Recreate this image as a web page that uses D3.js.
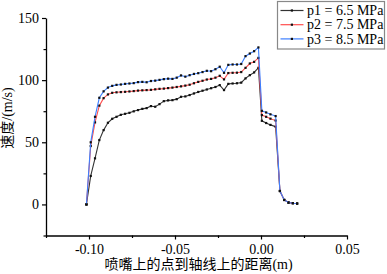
<!DOCTYPE html>
<html>
<head>
<meta charset="utf-8">
<script src="https://cdn.jsdelivr.net/npm/d3@7"></script>
<style>
  body { margin: 0; background: #fff; }
  svg { display: block; font-family: 'Liberation Serif', 'Noto Sans CJK SC', serif; }
  .tick text { font-size: 14px; fill: #000; font-family: 'Liberation Serif', serif; }
  .axis-label { font-size: 14px; fill: #000; }
  .legend-text { font-size: 14px; fill: #000; }
</style>
</head>
<body>
<svg></svg>
<script>
const w = 387
const h = 274

// distance from the nozzle point to the axis (m)
const xs = [-0.1015, -0.099, -0.0965, -0.094, -0.0915, -0.089, -0.0865, -0.084, -0.0815, -0.079,
  -0.0765, -0.074, -0.0715, -0.069, -0.0665, -0.064, -0.0615, -0.059, -0.0565, -0.054,
  -0.0515, -0.049, -0.0465, -0.044, -0.0415, -0.039, -0.0365, -0.034, -0.0315, -0.029,
  -0.0265, -0.024, -0.0215, -0.019, -0.0165, -0.014, -0.0115, -0.009, -0.0065, -0.004,
  -0.0015, 0.0005, 0.003, 0.0055, 0.0085, 0.011, 0.0135, 0.016, 0.0185, 0.021]

const p1 = [0, 22.9, 37.1, 51.8, 59.8, 65.7, 68.9, 70.5, 72.1, 72.9,
  73.7, 74.9, 75.9, 76.9, 77.5, 79.1, 78.6, 80.7, 83.1, 83.7,
  83.9, 84.7, 86.6, 86.9, 88, 89.3, 90.5, 91.5, 92.5, 93.5,
  94.5, 96, 92, 97, 97.3, 97.5, 98, 101.4, 104, 106.2,
  109.9, 67.3, 65.5, 64, 62.5, 10.8, 3.6, 1.5, 1, 0.7]

const p2 = [0, 47, 66, 79.5, 85.5, 88.5, 89.8, 90.2, 90.4, 90.6,
  90.9, 91.2, 91.6, 91.8, 92, 92.2, 92.6, 93, 93.2, 93.6,
  94, 94.5, 95, 95.6, 96.3, 97.5, 98.6, 99.5, 100.5, 101,
  102, 103.5, 100.6, 105.7, 105.9, 106, 106.5, 109.9, 113.4, 114.7,
  117.9, 71.9, 70.5, 69, 67.5, 10.8, 3.6, 1.5, 1, 0.7]

const p3 = [0, 50, 70.5, 85.8, 91, 94, 95.4, 96.2, 96.5, 97,
  97.3, 97.6, 98.4, 98.6, 98.3, 99.3, 99.6, 100.2, 100.8, 101.2,
  101, 102, 103.8, 102.8, 104, 105, 105.6, 106.5, 107.5, 107.2,
  108.8, 110.8, 105.9, 112.3, 112.6, 112.6, 113, 119.3, 121.4, 123.3,
  126.3, 75.3, 74, 72.5, 71.1, 10.8, 3.6, 1.5, 1, 0.7]

const seriesNames = ['p1 = 6.5 MPa', 'p2 = 7.5 MPa', 'p3 = 8.5 MPa']
const seriesColors = ['#333333', '#ff4d4d', '#3d7fff']

const xTicks = [-0.10, -0.05, 0.00, 0.05]
const xMinor = [-0.125, -0.075, -0.025, 0.025]
const yTicks = [0, 50, 100, 150]
const yMinor = [-25, 25, 75, 125]

const svg = d3.select('svg')
  .attr('width', w)
  .attr('height', h);

const render = () => {
  const xAxisLabel = '喷嘴上的点到轴线上的距离(m)'
  const yAxisLabel = '速度/(m/s)'
  const margin = {top: 18, right: 40, bottom: 38.5, left: 46};
  const innerWidth = w - margin.left - margin.right;
  const innerHeight = h - margin.top - margin.bottom;

  const xScale = d3.scaleLinear()
    .domain([-0.125, 0.05])
    .range([0, innerWidth])

  const yScale = d3.scaleLinear()
    .domain([-25, 150])
    .range([innerHeight, 0])

  const g = svg.append('g')
    .attr('transform', `translate(${margin.left}, ${margin.top})`);

  // minor ticks first, then the main axes on top
  g.append('g')
    .attr('transform', `translate(0, ${innerHeight})`)
    .call(d3.axisBottom(xScale).tickValues(xMinor).tickSize(2.5).tickFormat(''))
    .call(a => a.select('.domain').remove())
    .selectAll('line').attr('stroke-width', 1.2)

  g.append('g')
    .call(d3.axisLeft(yScale).tickValues(yMinor).tickSize(2.5).tickFormat(''))
    .call(a => a.select('.domain').remove())
    .selectAll('line').attr('stroke-width', 1.2)

  const xAxisG = g.append('g')
    .attr('transform', `translate(0, ${innerHeight})`)
    .call(d3.axisBottom(xScale)
      .tickValues(xTicks)
      .tickSize(4)
      .tickSizeOuter(0)
      .tickPadding(5)
      .tickFormat(d3.format('.2f')))
    .attr('font-family', null)
    .attr('font-size', null)
  xAxisG.select('.domain').attr('stroke-width', 1.3)
  xAxisG.selectAll('.tick line').attr('stroke-width', 1.2)
  xAxisG.selectAll('.tick text').text(d => d3.format('.2f')(d).replace('−', '-'))

  const yAxisG = g.append('g')
    .call(d3.axisLeft(yScale)
      .tickValues(yTicks)
      .tickSize(4)
      .tickSizeOuter(0)
      .tickPadding(3))
    .attr('font-family', null)
    .attr('font-size', null)
  yAxisG.select('.domain').attr('stroke-width', 1.3)
  yAxisG.selectAll('.tick line').attr('stroke-width', 1.2)

  g.append('text')
    .attr('class', 'axis-label')
    .attr('x', innerWidth / 2 + 2)
    .attr('y', innerHeight + 33)
    .attr('text-anchor', 'middle')
    .text(xAxisLabel);

  g.append('text')
    .attr('class', 'axis-label')
    .attr('transform', 'rotate(-90)')
    .attr('x', -100)
    .attr('y', -34)
    .attr('text-anchor', 'middle')
    .text(yAxisLabel);

  const lineGenerator = d3.line()
    .x(d => xScale(d.x))
    .y(d => yScale(d.y));

  const allSeries = [p1, p2, p3].map(vals => vals.map((v, i) => ({x: xs[i], y: v})))

  allSeries.forEach((data, k) => {
    g.append('path')
      .attr('d', lineGenerator(data))
      .attr('fill', 'none')
      .attr('stroke', seriesColors[k])
      .attr('stroke-width', 1.1)

    g.append('g').selectAll('rect').data(data)
      .enter().append('rect')
      .attr('x', d => xScale(d.x) - 1.1)
      .attr('y', d => yScale(d.y) - 1.1)
      .attr('width', 2.2)
      .attr('height', 2.2)
      .attr('fill', '#111')
  })

  // legend box, top right
  const legend = svg.append('g').attr('transform', 'translate(277.5, 1.5)')
  legend.append('rect')
    .attr('width', 107)
    .attr('height', 47.5)
    .attr('fill', '#fff')
    .attr('stroke', '#888')
    .attr('stroke-width', 1.2)

  const rows = legend.selectAll('g.row').data(seriesNames)
    .enter().append('g')
    .attr('class', 'row')
    .attr('transform', (d, i) => `translate(0, ${9 + i * 14.2})`)

  rows.append('line')
    .attr('x1', 3).attr('x2', 26)
    .attr('stroke', (d, i) => seriesColors[i])
    .attr('stroke-width', 1.2)
  rows.append('rect')
    .attr('x', 13.3).attr('y', -1.1)
    .attr('width', 2.2).attr('height', 2.2)
    .attr('fill', '#111')
  rows.append('text')
    .attr('class', 'legend-text')
    .attr('x', 29.5)
    .attr('dy', '0.33em')
    .text(d => d);
}

render()
</script>
</body>
</html>
